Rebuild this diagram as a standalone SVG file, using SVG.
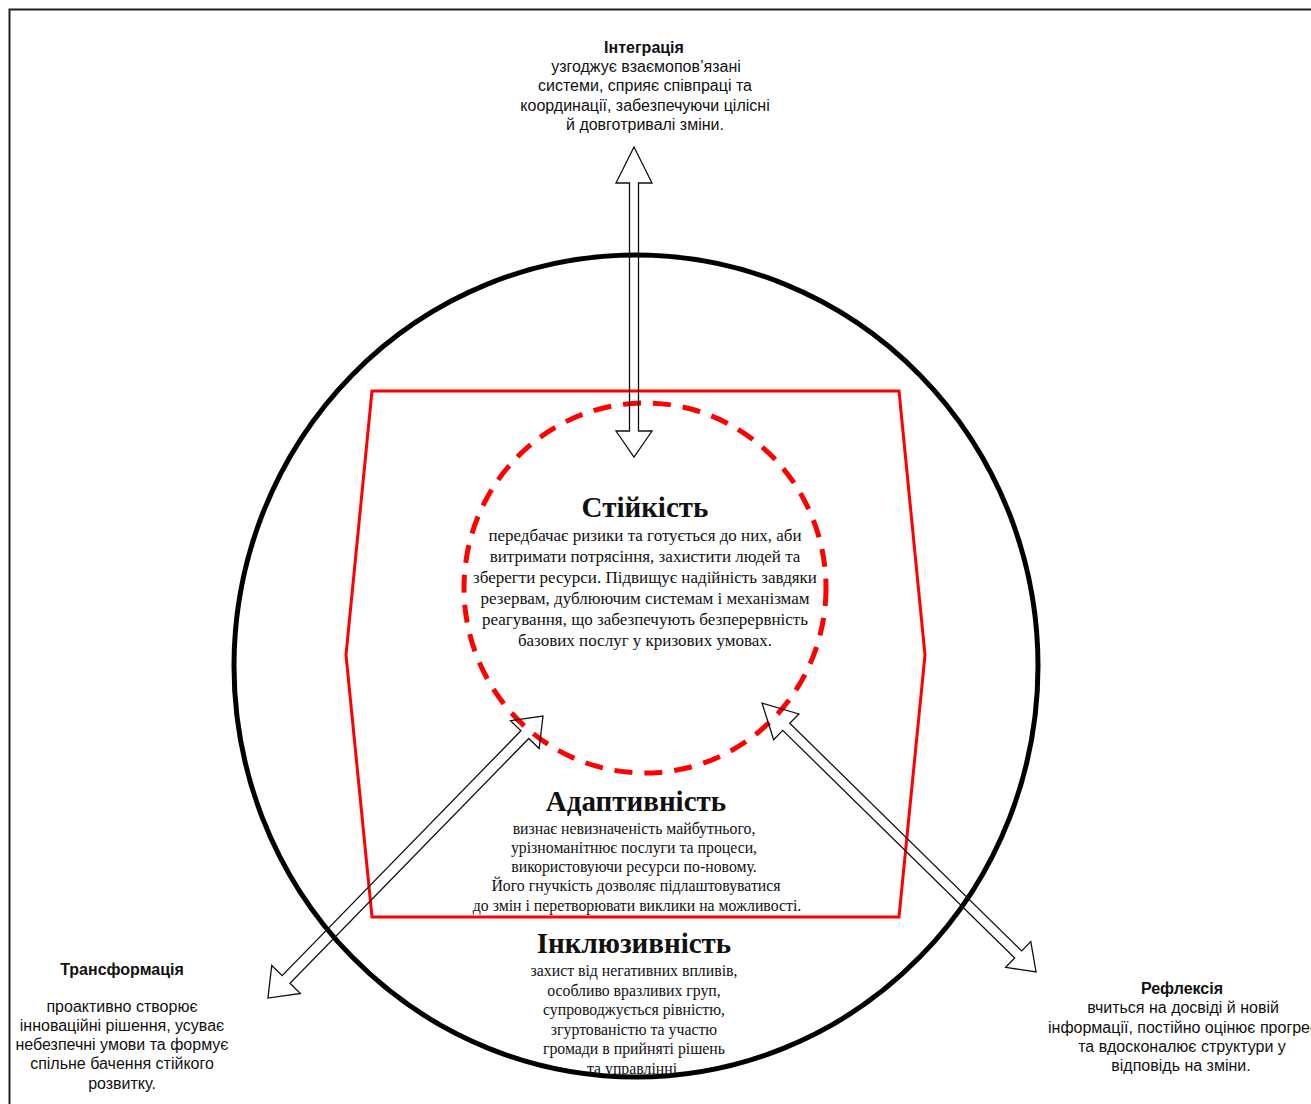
<svg xmlns="http://www.w3.org/2000/svg" width="1311" height="1104" viewBox="0 0 1311 1104">
<style>
.sans{font-family:"Liberation Sans",Arial,sans-serif;fill:#111;text-anchor:middle}
.serif{font-family:"Liberation Serif","Times New Roman",serif;fill:#111;text-anchor:middle}
.st{font-size:16px}
.sb{font-size:16px;font-weight:bold}
.h{font-size:29px;font-weight:bold}
.b16{font-size:17px}
.b14{font-size:15.8px}
.arrow{fill:none;stroke:#111;stroke-width:1.3;stroke-linejoin:miter}
</style>
<rect x="0" y="0" width="1311" height="1104" fill="#fff"/>
<rect x="9.5" y="9.5" width="1330" height="1130" fill="none" stroke="#222" stroke-width="2"/>
<g id="outer-circle"><ellipse cx="636" cy="666" rx="402" ry="411" fill="none" stroke="#000" stroke-width="5"/></g>
<g id="adaptivity-frame"><polygon points="372,391 899,391 925,655 899,917 372,917 346,655" fill="none" stroke="#f00" stroke-width="3"/></g>
<g id="resilience-circle"><ellipse cx="645" cy="588" rx="181" ry="185" fill="none" stroke="#f00" stroke-width="5" stroke-dasharray="18 12"/></g>
<g id="connectors">
<path class="arrow" transform="translate(634,147) rotate(90)" d="M0,0 L36,-18 L36,-4.5 L284,-4.5 L284,-18 L310,0 L284,18 L284,4.5 L36,4.5 L36,18 Z"/>
<path class="arrow" transform="translate(543,716) rotate(134.28)" d="M0,0 L26,-20 L26,-5.5 L368,-5.5 L368,-20 L394,0 L368,20 L368,5.5 L26,5.5 L26,20 Z"/>
<path class="arrow" transform="translate(762,703) rotate(44.47)" d="M0,0 L34,-18 L34,-5 L359,-5 L359,-18 L384,0 L359,18 L359,5 L34,5 L34,18 Z"/>
</g>
<g id="integration">
<text class="sans sb" x="644" y="53">Інтеграція</text>
<text class="sans st" x="646" y="72">узгоджує взаємопов’язані</text>
<text class="sans st" x="645" y="91">системи, сприяє співпраці та</text>
<text class="sans st" x="645" y="111">координації, забезпечуючи цілісні</text>
<text class="sans st" x="645" y="130">й довготривалі зміни.</text>
</g>
<g id="resilience">
<text class="serif h" x="645" y="517">Стійкість</text>
<text class="serif b16" x="645" y="541">передбачає ризики та готується до них, аби</text>
<text class="serif b16" x="645" y="562">витримати потрясіння, захистити людей та</text>
<text class="serif b16" x="645" y="583">зберегти ресурси. Підвищує надійність завдяки</text>
<text class="serif b16" x="645" y="604">резервам, дублюючим системам і механізмам</text>
<text class="serif b16" x="645" y="625">реагування, що забезпечують безперервність</text>
<text class="serif b16" x="645" y="646">базових послуг у кризових умовах.</text>
</g>
<g id="adaptivity">
<text class="serif h" x="636" y="811">Адаптивність</text>
<text class="serif b14" x="634" y="834">визнає невизначеність майбутнього,</text>
<text class="serif b14" x="634" y="853">урізноманітнює послуги та процеси,</text>
<text class="serif b14" x="634" y="872">використовуючи ресурси по-новому.</text>
<text class="serif b14" x="636" y="891">Його гнучкість дозволяє підлаштовуватися</text>
<text class="serif b14" x="637" y="911">до змін і перетворювати виклики на можливості.</text>
</g>
<g id="inclusivity">
<text class="serif h" x="634" y="953">Інклюзивність</text>
<text class="serif b14" x="634" y="976">захист від негативних впливів,</text>
<text class="serif b14" x="634" y="996">особливо вразливих груп,</text>
<text class="serif b14" x="634" y="1015">супроводжується рівністю,</text>
<text class="serif b14" x="634" y="1035">згуртованістю та участю</text>
<text class="serif b14" x="634" y="1054">громади в прийняті рішень</text>
<text class="serif b14" x="634" y="1074">та управлінні.</text>
</g>
<g id="transformation">
<text class="sans sb" x="122" y="975">Трансформація</text>
<text class="sans st" x="122" y="1012">проактивно створює</text>
<text class="sans st" x="122" y="1031">інноваційні рішення, усуває</text>
<text class="sans st" x="122" y="1050">небезпечні умови та формує</text>
<text class="sans st" x="122" y="1069">спільне бачення стійкого</text>
<text class="sans st" x="122" y="1089">розвитку.</text>
</g>
<g id="reflection">
<text class="sans sb" x="1182" y="994">Рефлексія</text>
<text class="sans st" x="1183" y="1013">вчиться на досвіді й новій</text>
<text class="sans st" x="1183" y="1033">інформації, постійно оцінює прогрес</text>
<text class="sans st" x="1182" y="1052">та вдосконалює структури у</text>
<text class="sans st" x="1181" y="1071">відповідь на зміни.</text>
</g>
</svg>
